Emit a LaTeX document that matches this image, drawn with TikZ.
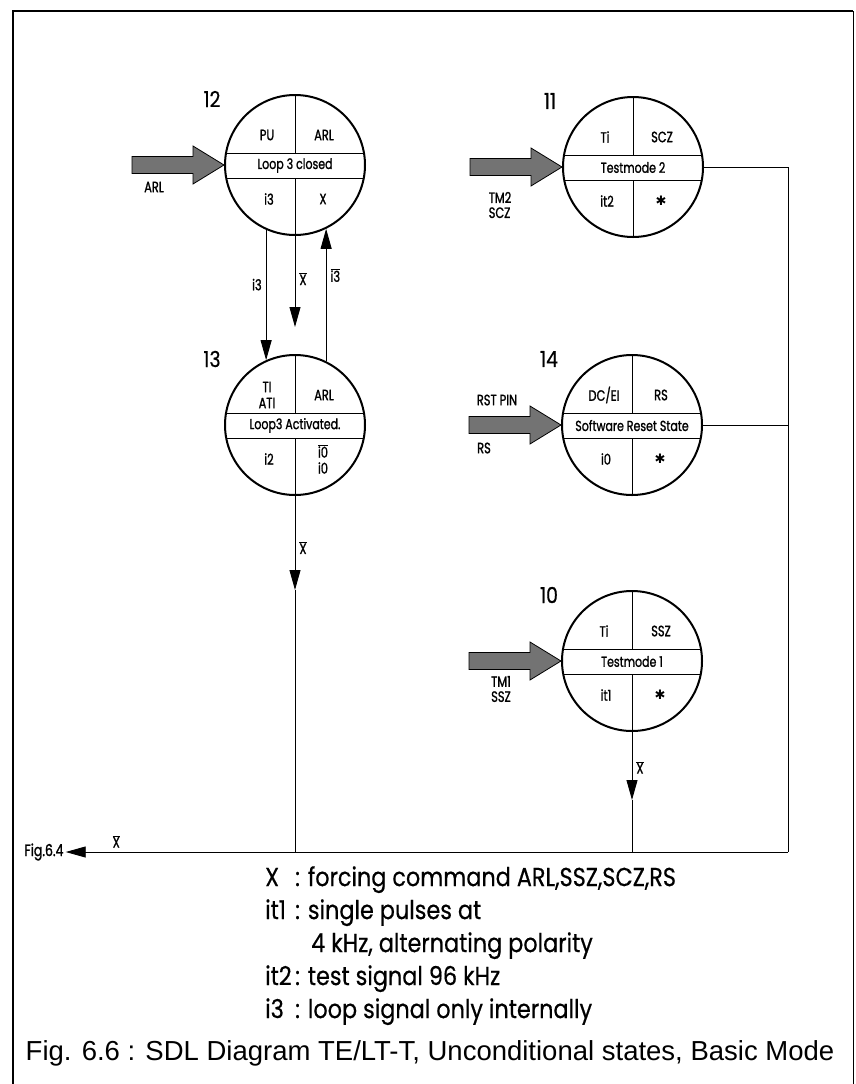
\documentclass[tikz,border=0pt]{standalone}
\usepackage{fontspec}
\setmainfont[FakeStretch=0.86, FakeBold=0.5]{Poppins}
\newfontfamily\condfont[FakeStretch=0.76, FakeBold=1.2]{Poppins}
\newfontfamily\capfont{Liberation Sans}
\newfontfamily\symfont{DejaVu Sans}
\usetikzlibrary{arrows.meta,calc}

\tikzset{
  sdlcircle/.style={draw, circle, line width=2pt, minimum size=140pt, inner sep=0pt},
  quad/.style={font=\condfont\fontsize{15}{16}\selectfont, align=center, inner sep=0pt},
  bandtext/.style={font=\condfont\fontsize{14.5}{16}\selectfont, inner sep=0pt},
  statenum/.style={font=\fontsize{22}{22}\selectfont, inner sep=0pt},
  wire/.style={line width=0.9pt},
  sig/.style={wire, -{Triangle[length=20pt,width=11pt]}},
  siglabel/.style={font=\condfont\fontsize{15}{16}\selectfont, inner sep=4pt},
  inarrow/.style={draw, line width=0.8pt, fill=black!55},
  inlabel/.style={font=\condfont\fontsize{15}{15}\selectfont, align=left, inner sep=0pt},
}

% state circle: name, position, number, top left, top right, band, bottom left, bottom right
\newcommand{\sdlstate}[8]{%
  \node[sdlcircle] (#1) at #2 {};
  \draw[wire] ([shift={(-68.8,-12)}]#1.center) -- ++(137.6,0);
  \draw[wire] ([shift={(-68.8,13)}]#1.center) -- ++(137.6,0);
  \draw[wire] (#1.north) -- ([shift={(0,-12)}]#1.center);
  \draw[wire] (#1.south) -- ([shift={(0,13)}]#1.center);
  \node[statenum] (#1-num) at ([shift={(-83,-66)}]#1.center) {#3};
  \node[quad] (#1-tl) at ([shift={(-28,-30)}]#1.center) {#4};
  \node[quad] (#1-tr) at ([shift={(29,-30)}]#1.center) {#5};
  \node[bandtext] (#1-band) at ([shift={(0,0.5)}]#1.center) {#6};
  \node[quad] (#1-bl) at ([shift={(-26,34)}]#1.center) {#7};
  \node[quad] (#1-br) at ([shift={(28,34)}]#1.center) {#8};
}
% shaded input arrow ending at the west side of a state
\newcommand{\inarrow}[1]{%
  \draw[inarrow] (#1.west) -- ++(-31,-19) -- ++(0,10.5) -- ++(-61,0) -- ++(0,17)
    -- ++(61,0) -- ++(0,10.5) -- cycle;
}
\newcommand{\xbar}{$\overline{\mbox{X}}$}
\newcommand{\anysig}{{\symfont\fontsize{13}{13}\selectfont ✱}}

\begin{document}
\begin{tikzpicture}[x=1pt, y=-1pt]
\useasboundingbox (0,0) rectangle (855,1084);
\draw[line width=2.5pt] (13,1090) -- (13,11) -- (853,11);
\draw[line width=1pt] (853,11) -- (853,1090);

\sdlstate{s12}{(295,165)}{12}{PU}{ARL}{Loop 3 closed}{i3}{X}
\sdlstate{s11}{(633,167)}{11}{Ti}{SCZ}{Testmode 2}{it2}{\anysig}
\sdlstate{s13}{(295,425)}{13}{TI\\ATI}{ARL}{Loop3 Activated.}{i2}{$\overline{\mbox{i0}}$\\i0}
\sdlstate{s14}{(632,425)}{14}{DC/EI}{RS}{Software Reset State}{i0}{\anysig}
\sdlstate{s10}{(632,661)}{10}{Ti}{SSZ}{Testmode 1}{it1}{\anysig}

\inarrow{s12}
\inarrow{s11}
\inarrow{s14}
\inarrow{s10}
\node[inlabel] (in12) at ([shift={(-70,22)}]s12.west) {ARL};
\node[inlabel] (in11) at ([shift={(-62,38)}]s11.west) {TM2\\SCZ};
\node[inlabel] (in14a) at ([shift={(-64,-25)}]s14.west) {RST PIN};
\node[inlabel] (in14b) at ([shift={(-77,23)}]s14.west) {RS};
\node[inlabel] (in10) at ([shift={(-60,28)}]s10.west) {TM1\\SSZ};

\coordinate (rc) at (788,852);
\coordinate (t12) at (295,327);
\coordinate (t13) at (295,590);
\coordinate (t10) at (632,800);
\node[font=\condfont\fontsize{16.5}{16}\selectfont, inner sep=2pt] (fig64) at (44,852) {Fig.6.4};

\draw[sig] (s12.246) -- node[siglabel, left, pos=0.42] {i3} (s13.114);
\draw[sig] (s12.south) -- node[siglabel, right, pos=0.47] {\xbar} (t12);
\draw[sig] (s13.64) -- node[siglabel, right, pos=0.65] {$\overline{\mbox{i3}}$} (s12.296);
\draw[sig] (s13.south) -- node[siglabel, right, pos=0.55] {\xbar} (t13);
\draw[wire] (t13) -- (t13 |- rc);
\draw[sig] (s10.south) -- node[siglabel, right, pos=0.52] {\xbar} (t10);
\draw[wire] (t10) -- (t10 |- rc);
\draw[wire] (s11.east) -- (s11.east -| rc) -- (rc);
\draw[wire] (s14.east) -- (s14.east -| rc);
\draw[sig] (rc) -- node[siglabel, above, pos=0.93] {\xbar} (fig64);

\node[font=\fontsize{26}{33}\selectfont, align=left, anchor=north west, inner sep=0pt] (legend) at (265,866)
  {\makebox[30pt][l]{X}: forcing command ARL,SSZ,SCZ,RS\\
   \makebox[30pt][l]{it1}: single pulses at\\
   \hspace*{46pt}4 kHz, alternating polarity\\
   \makebox[30pt][l]{it2}: test signal 96 kHz\\
   \makebox[30pt][l]{i3}: loop signal only internally};
\node[font=\capfont\fontsize{27.5}{28}\selectfont, inner sep=0pt] (caption) at (430,1053)
  {Fig. 6.6 : SDL Diagram TE/LT-T, Unconditional states, Basic Mode};
\end{tikzpicture}
\end{document}
